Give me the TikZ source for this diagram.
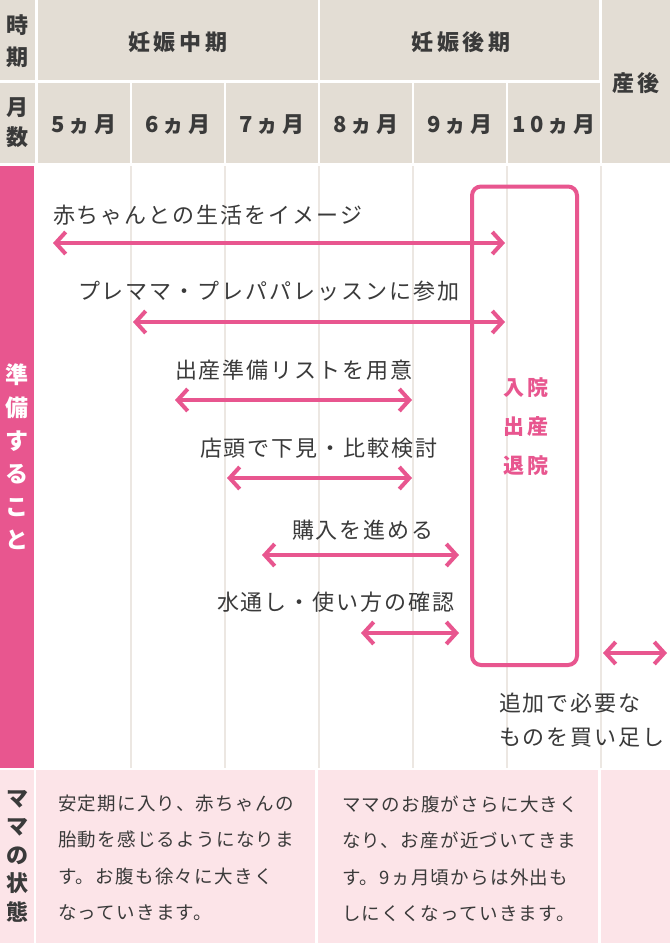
\documentclass[tikz,border=0pt]{standalone}
\usepackage{fontspec}
\usepackage{tikz}
\usetikzlibrary{positioning}
\usetikzlibrary{arrows.meta}

\newfontfamily\jp[LetterSpace=9]{Noto Sans CJK JP}
\newfontfamily\jphead[LetterSpace=18]{Noto Sans CJK JP}
\newfontfamily\jpnote[LetterSpace=7]{Noto Sans CJK JP}
\newfontfamily\jpplain{Noto Sans CJK JP}

\definecolor{headbg}{HTML}{E3DDD4}
\definecolor{pinkmain}{HTML}{E8568F}
\definecolor{pinklight}{HTML}{FCE4E8}
\definecolor{gridgray}{HTML}{ECE7E2}
\definecolor{ink}{HTML}{3A3A3A}

\begin{document}
\begin{tikzpicture}
[   x=1pt,
    y=-1pt,
    inner sep=0pt,
    outer sep=0pt,
    text=ink,
    headtext/.style={font=\jphead\bfseries\fontsize{22}{31}\selectfont, align=center},
    stacktext/.style={font=\jpplain\bfseries\fontsize{22}{31}\selectfont, align=center},
    lbl/.style={font=\jp\fontsize{22}{34}\selectfont, anchor=west, align=left},
    note/.style={font=\jpnote\fontsize{18.5}{36.5}\selectfont, anchor=west, align=left},
    span/.style={draw=pinkmain, line width=4pt,
        {Straight Barb[length=10pt,width=22pt]}-{Straight Barb[length=10pt,width=22pt]}}
]

\useasboundingbox (0,0) rectangle (670,943);
\fill[white] (0,0) rectangle (670,943);

\fill[headbg] (0,0) rectangle (35,80);
\node[stacktext, font=\jpplain\bfseries\fontsize{22}{32}\selectfont] (period) at (17.5,41) {時\\期};
\fill[headbg] (38,0) rectangle (318,80);
\node[headtext] (midterm) at (178,42) {妊娠中期};
\fill[headbg] (320,0) rectangle (599,80);
\node[headtext] (lateterm) at (461,42) {妊娠後期};
\fill[headbg] (602,0) rectangle (670,163);
\node[headtext] (afterbirth) at (636,83) {産後};
\fill[headbg] (0,83) rectangle (35,163);
\node[stacktext, font=\jpplain\bfseries\fontsize{22}{30}\selectfont] (monthcount) at (17.5,123) {月\\数};
\foreach \m [count=\i from 0] in {5,...,10} {
    \fill[headbg] (38+94*\i,83) rectangle (130+94*\i,163);
    \node[headtext] (month\m) at (84+94*\i,125) {\m ヵ月};
}

\fill[pinkmain] (0,166) rectangle (34,768);
\node[stacktext, text=white, font=\jpplain\bfseries\fontsize{23}{33}\selectfont] (todo) at (17,457) {準\\備\\す\\る\\こ\\と};
\foreach \gx in {131,225,...,601}
    \draw[gridgray, line width=2pt] (\gx,166) -- (\gx,768);

\node[draw=pinkmain, line width=4pt, rounded corners=9pt,
      minimum width=105pt, minimum height=478.5pt] (stay) at (524.5,425.75) {};
\node[headtext, text=pinkmain, font=\jphead\bfseries\fontsize{21}{39}\selectfont] (staytext) at (526,427) {入院\\出産\\退院};

\node[lbl] (imagine) at (53,215) {赤ちゃんとの生活をイメージ};
\coordinate (imagine-l) at (53,243);
\coordinate (imagine-r) at (505,243);
\draw[span] (imagine-l) -- (imagine-r);

\node[lbl] (lesson) at (78,291) {プレママ・プレパパレッスンに参加};
\coordinate (lesson-l) at (133,322);
\coordinate (lesson-r) at (505,322);
\draw[span] (lesson-l) -- (lesson-r);

\node[lbl] (list) at (175,370) {出産準備リストを用意};
\coordinate (list-l) at (175,400);
\coordinate (list-r) at (412,400);
\draw[span] (list-l) -- (list-r);

\node[lbl] (compare) at (200,448) {店頭で下見・比較検討};
\coordinate (compare-l) at (227,478);
\coordinate (compare-r) at (412,478);
\draw[span] (compare-l) -- (compare-r);

\node[lbl] (purchase) at (292,530) {購入を進める};
\coordinate (purchase-l) at (262,555);
\coordinate (purchase-r) at (459,555);
\draw[span] (purchase-l) -- (purchase-r);

\node[lbl] (wash) at (217,602) {水通し・使い方の確認};
\coordinate (wash-l) at (361,633);
\coordinate (wash-r) at (459,633);
\draw[span] (wash-l) -- (wash-r);

\coordinate (addbuy-l) at (603,653);
\coordinate (addbuy-r) at (667,653);
\draw[span] (addbuy-l) -- (addbuy-r);
\node[lbl] (addbuy) at (499,720) {追加で必要な\\ものを買い足し};

\fill[pinklight] (0,770) rectangle (34,943);
\node[stacktext, font=\jpplain\bfseries\fontsize{22}{28.5}\selectfont] (mama) at (17,856) {マ\\マ\\の\\状\\態};
\fill[pinklight] (36,770) rectangle (315,943);
\node[note] (midstate) at (58,858) {安定期に入り、赤ちゃんの\\胎動を感じるようになりま\\す。お腹も徐々に大きく\\なっていきます。};
\fill[pinklight] (318,770) rectangle (598,943);
\node[note] (latestate) at (342,859) {ママのお腹がさらに大きく\\なり、お産が近づいてきま\\す。9ヵ月頃からは外出も\\しにくくなっていきます。};
\fill[pinklight] (601,770) rectangle (670,943);
\end{tikzpicture}
\end{document}
